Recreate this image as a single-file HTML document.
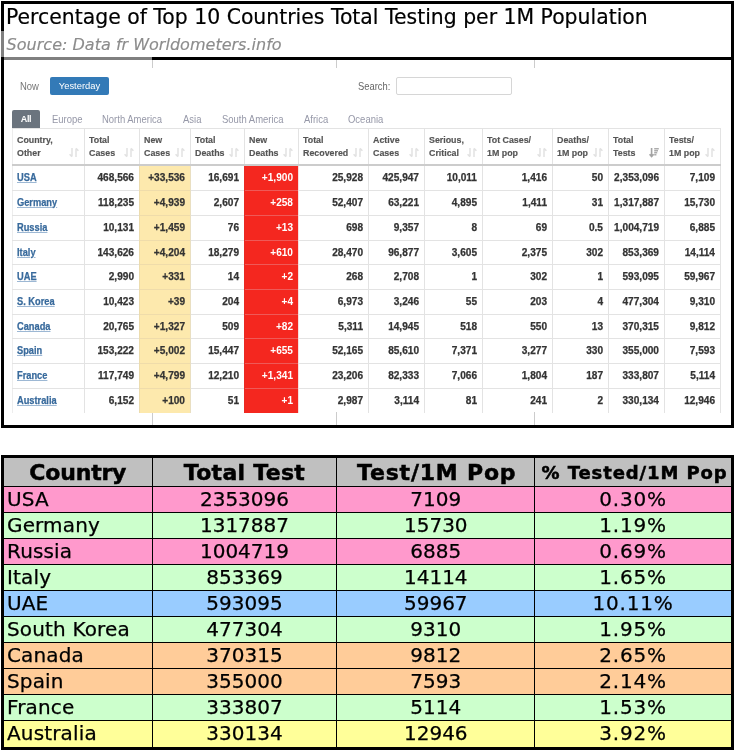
<!DOCTYPE html>
<html><head><meta charset="utf-8">
<style>
*{margin:0;padding:0;box-sizing:border-box}
html,body{width:736px;height:751px;background:#fff;overflow:hidden}
body{position:relative;font-family:"Liberation Sans",Arial,sans-serif}
.a{position:absolute}
.blk{position:absolute;background:#000}
.t{position:absolute;white-space:nowrap}
#title{left:6px;top:5px;font:20.4px/24px "DejaVu Sans",Verdana,sans-serif;color:#000;-webkit-text-stroke:0.2px}
#src{left:6.6px;top:35px;-webkit-text-stroke:0.15px;font:italic 16.05px/20px "DejaVu Sans",Verdana,sans-serif;color:#8c8c8c}
/* worldometers */
.wm{font-family:"Liberation Sans",Helvetica,Arial,sans-serif}
#now{left:20px;top:81px;font-size:10.2px;line-height:12px;color:#777;transform:scaleX(0.93);transform-origin:0 50%}
#yest{left:50px;top:77px;width:59px;height:18px;background:#337ab7;border-radius:2px;color:#fff;font-size:9.4px;line-height:18px;text-align:center}
#srch{left:358px;top:81px;font-size:10.1px;line-height:12px;color:#666;transform:scaleX(0.93);transform-origin:0 50%}
#inp{left:396px;top:77px;width:116px;height:18px;border:1px solid #d6d6d6;border-radius:2px;background:#fff}
#all{left:12px;top:110px;width:28px;height:18px;background:#6b747e;border-radius:2px 2px 0 0;color:#fff;font-size:9px;letter-spacing:-0.3px;line-height:18px;text-align:center;font-weight:bold}
.tab{position:absolute;top:114px;font-size:10.2px;line-height:12px;color:#9698a8;white-space:nowrap;transform:scaleX(0.93);transform-origin:0 50%}
table.w{position:absolute;left:12px;top:128px;border-collapse:collapse;table-layout:fixed;width:709px}
table.w th,table.w td{border:1px solid #e3e3e3;overflow:hidden;white-space:nowrap}
table.w th{-webkit-text-stroke:0.15px;height:36px;font-size:8.85px;line-height:12.8px;color:#555;font-weight:bold;text-align:left;vertical-align:middle;padding:2px 4px 0;border-bottom:2px solid #ccc;position:relative}
table.w td{-webkit-text-stroke:0.25px;font-size:10.1px;line-height:12px;font-weight:bold;color:#333;text-align:right;padding:6px 5px 0;vertical-align:top}
table.w tr.f td{padding-top:6px}
table.w tr.f td.c{padding-top:5px}
table.w td.c{text-align:left;color:#386a9c;padding-left:4px;padding-top:5px}
table.w td.c span{display:inline-block;font-size:10.6px;transform:scaleX(0.875);transform-origin:0 50%;text-decoration:underline;text-decoration-color:#9db8d4}
table.w td.y{background:#fde9ad;border-color:#efdcaa;border-left:1px double #ecdcae;border-right:1px double #e9dfc2}
table.w td.r{-webkit-text-stroke:0;background:#f4271f;color:#fff;border-color:#ee5a58;border-left:1px double #e82a24;border-right:1px double #f7dede}
table.w tr:last-child td{border-bottom:0}
table.w td:first-child,table.w th:first-child{border-left-color:#ededed}
.si{position:absolute;right:5px;bottom:7px;width:10px;height:9px;overflow:visible}
/* lower table */
table.s{position:absolute;left:1px;top:455px;border-collapse:collapse;table-layout:fixed;width:733px;border:3px solid #000;font-family:"DejaVu Sans",Verdana,sans-serif}
table.s td,table.s th{border:1px solid #000;white-space:nowrap;overflow:hidden}
table.s th{-webkit-text-stroke:0.5px;background:#c0c0c0;height:30px;font-size:22px;font-weight:bold;text-align:center}
table.s td{height:26px;font-size:20px;text-align:center;line-height:25px}
table.s td:first-child{text-align:left;padding-left:3px;letter-spacing:0.15px}
table.s td:last-child{letter-spacing:0.8px}
table.s td{-webkit-text-stroke:0.25px}
.pk td{background:#ff99cc}
.gn td{background:#ccffcc}
.bl td{background:#99ccff}
.or td{background:#ffcc99}
.yl td{background:#ffff99}
table.s tr.last td{height:28px;vertical-align:top}
</style></head><body>
<!-- top frame -->
<div class="blk" style="left:1px;top:1px;width:733px;height:3px"></div>
<div class="blk" style="left:1px;top:1px;width:3px;height:30px"></div>
<div class="a" style="left:1px;top:31px;width:3px;height:26px;background:#808080"></div>
<div class="blk" style="left:1px;top:57px;width:3px;height:371px"></div>
<div class="a" style="left:4px;top:57px;width:148px;height:3px;background:#808080"></div>
<div class="blk" style="left:152px;top:57px;width:582px;height:3px"></div>
<div class="blk" style="left:731px;top:1px;width:3px;height:427px"></div>
<div class="blk" style="left:1px;top:425px;width:733px;height:3px"></div>
<div class="a" style="left:152px;top:60px;width:1px;height:8px;background:#ccc"></div>
<div class="a" style="left:336px;top:60px;width:1px;height:8px;background:#ccc"></div>
<div class="a" style="left:534px;top:60px;width:1px;height:8px;background:#ccc"></div>
<div class="a" style="left:152px;top:412px;width:1px;height:13px;background:#ccc"></div>
<div class="a" style="left:336px;top:412px;width:1px;height:13px;background:#ccc"></div>
<div class="a" style="left:534px;top:412px;width:1px;height:13px;background:#ccc"></div>
<div class="t" id="title">Percentage of Top 10 Countries Total Testing per 1M Population</div>
<div class="t" id="src">Source: Data fr Worldometers.info</div>

<div class="wm">
<div class="t" id="now">Now</div>
<div class="t a" id="yest">Yesterday</div>
<div class="t" id="srch">Search:</div>
<div class="a" id="inp"></div>
<div class="t a" id="all">All</div>
<div class="tab" style="left:52px">Europe</div>
<div class="tab" style="left:102px">North America</div>
<div class="tab" style="left:183px">Asia</div>
<div class="tab" style="left:222px">South America</div>
<div class="tab" style="left:304px">Africa</div>
<div class="tab" style="left:348px">Oceania</div>

<table class="w">
<colgroup><col style="width:72px"><col style="width:55px"><col style="width:51px"><col style="width:54px"><col style="width:54px"><col style="width:70px"><col style="width:56px"><col style="width:58px"><col style="width:70px"><col style="width:56px"><col style="width:56px"><col style="width:56px"></colgroup>
<tr><th>Country,<br>Other<svg class="si" viewBox="0 0 10 9"><path d="M3 0v8.6M3 8.6L0.6 6.2M7 9V0.4M7 0.4L9.4 2.8" stroke="#e2e2e2" stroke-width="1.5" fill="none"/></svg></th>
<th>Total<br>Cases<svg class="si" viewBox="0 0 10 9"><path d="M3 0v8.6M3 8.6L0.6 6.2M7 9V0.4M7 0.4L9.4 2.8" stroke="#e2e2e2" stroke-width="1.5" fill="none"/></svg></th>
<th>New<br>Cases<svg class="si" viewBox="0 0 10 9"><path d="M3 0v8.6M3 8.6L0.6 6.2M7 9V0.4M7 0.4L9.4 2.8" stroke="#e2e2e2" stroke-width="1.5" fill="none"/></svg></th>
<th>Total<br>Deaths<svg class="si" viewBox="0 0 10 9"><path d="M3 0v8.6M3 8.6L0.6 6.2M7 9V0.4M7 0.4L9.4 2.8" stroke="#e2e2e2" stroke-width="1.5" fill="none"/></svg></th>
<th>New<br>Deaths<svg class="si" viewBox="0 0 10 9"><path d="M3 0v8.6M3 8.6L0.6 6.2M7 9V0.4M7 0.4L9.4 2.8" stroke="#e2e2e2" stroke-width="1.5" fill="none"/></svg></th>
<th>Total<br>Recovered<svg class="si" viewBox="0 0 10 9"><path d="M3 0v8.6M3 8.6L0.6 6.2M7 9V0.4M7 0.4L9.4 2.8" stroke="#e2e2e2" stroke-width="1.5" fill="none"/></svg></th>
<th>Active<br>Cases<svg class="si" viewBox="0 0 10 9"><path d="M3 0v8.6M3 8.6L0.6 6.2M7 9V0.4M7 0.4L9.4 2.8" stroke="#e2e2e2" stroke-width="1.5" fill="none"/></svg></th>
<th>Serious,<br>Critical<svg class="si" viewBox="0 0 10 9"><path d="M3 0v8.6M3 8.6L0.6 6.2M7 9V0.4M7 0.4L9.4 2.8" stroke="#e2e2e2" stroke-width="1.5" fill="none"/></svg></th>
<th>Tot&nbsp;Cases/<br>1M pop<svg class="si" viewBox="0 0 10 9"><path d="M3 0v8.6M3 8.6L0.6 6.2M7 9V0.4M7 0.4L9.4 2.8" stroke="#e2e2e2" stroke-width="1.5" fill="none"/></svg></th>
<th>Deaths/<br>1M pop<svg class="si" viewBox="0 0 10 9"><path d="M3 0v8.6M3 8.6L0.6 6.2M7 9V0.4M7 0.4L9.4 2.8" stroke="#e2e2e2" stroke-width="1.5" fill="none"/></svg></th>
<th>Total<br>Tests<svg class="si" viewBox="0 0 10 9"><path d="M2.6 0v8.4M0.6 6.2L2.6 8.6 4.6 6.2" stroke="#a4a4a4" stroke-width="1.6" fill="none"/><path d="M5.2 0.7h4.6M5.2 2.7h3.8M5.2 4.7h3M5.2 6.7h2.2" stroke="#acacac" stroke-width="1.4" fill="none"/></svg></th>
<th>Tests/<br>1M pop<svg class="si" viewBox="0 0 10 9"><path d="M3 0v8.6M3 8.6L0.6 6.2M7 9V0.4M7 0.4L9.4 2.8" stroke="#e2e2e2" stroke-width="1.5" fill="none"/></svg></th></tr>
<tr class="f" style="height:26px"><td class="c"><span>USA</span></td><td>468,566</td><td class="y">+33,536</td><td>16,691</td><td class="r">+1,900</td><td>25,928</td><td>425,947</td><td>10,011</td><td>1,416</td><td>50</td><td>2,353,096</td><td>7,109</td></tr>
<tr style="height:25px"><td class="c"><span>Germany</span></td><td>118,235</td><td class="y">+4,939</td><td>2,607</td><td class="r">+258</td><td>52,407</td><td>63,221</td><td>4,895</td><td>1,411</td><td>31</td><td>1,317,887</td><td>15,730</td></tr>
<tr style="height:25px"><td class="c"><span>Russia</span></td><td>10,131</td><td class="y">+1,459</td><td>76</td><td class="r">+13</td><td>698</td><td>9,357</td><td>8</td><td>69</td><td>0.5</td><td>1,004,719</td><td>6,885</td></tr>
<tr style="height:24px"><td class="c"><span>Italy</span></td><td>143,626</td><td class="y">+4,204</td><td>18,279</td><td class="r">+610</td><td>28,470</td><td>96,877</td><td>3,605</td><td>2,375</td><td>302</td><td>853,369</td><td>14,114</td></tr>
<tr style="height:25px"><td class="c"><span>UAE</span></td><td>2,990</td><td class="y">+331</td><td>14</td><td class="r">+2</td><td>268</td><td>2,708</td><td>1</td><td>302</td><td>1</td><td>593,095</td><td>59,967</td></tr>
<tr style="height:25px"><td class="c"><span>S. Korea</span></td><td>10,423</td><td class="y">+39</td><td>204</td><td class="r">+4</td><td>6,973</td><td>3,246</td><td>55</td><td>203</td><td>4</td><td>477,304</td><td>9,310</td></tr>
<tr style="height:24px"><td class="c"><span>Canada</span></td><td>20,765</td><td class="y">+1,327</td><td>509</td><td class="r">+82</td><td>5,311</td><td>14,945</td><td>518</td><td>550</td><td>13</td><td>370,315</td><td>9,812</td></tr>
<tr style="height:25px"><td class="c"><span>Spain</span></td><td>153,222</td><td class="y">+5,002</td><td>15,447</td><td class="r">+655</td><td>52,165</td><td>85,610</td><td>7,371</td><td>3,277</td><td>330</td><td>355,000</td><td>7,593</td></tr>
<tr style="height:25px"><td class="c"><span>France</span></td><td>117,749</td><td class="y">+4,799</td><td>12,210</td><td class="r">+1,341</td><td>23,206</td><td>82,333</td><td>7,066</td><td>1,804</td><td>187</td><td>333,807</td><td>5,114</td></tr>
<tr style="height:24px"><td class="c"><span>Australia</span></td><td>6,152</td><td class="y">+100</td><td>51</td><td class="r">+1</td><td>2,987</td><td>3,114</td><td>81</td><td>241</td><td>2</td><td>330,134</td><td>12,946</td></tr>
</table>
</div>

<table class="s">
<colgroup><col style="width:149px"><col style="width:184px"><col style="width:197px"><col style="width:197px"></colgroup>
<tr><th style="letter-spacing:-0.2px">Country</th><th style="letter-spacing:0.3px">Total Test</th><th style="letter-spacing:0.8px;padding-left:2px">Test/1M Pop</th><th style="font-size:18px;letter-spacing:0.9px;padding-left:3px">% Tested/1M Pop</th></tr>
<tr class="pk"><td>USA</td><td>2353096</td><td>7109</td><td>0.30%</td></tr>
<tr class="gn"><td>Germany</td><td>1317887</td><td>15730</td><td>1.19%</td></tr>
<tr class="pk"><td>Russia</td><td>1004719</td><td>6885</td><td>0.69%</td></tr>
<tr class="gn"><td>Italy</td><td>853369</td><td>14114</td><td>1.65%</td></tr>
<tr class="bl"><td>UAE</td><td>593095</td><td>59967</td><td>10.11%</td></tr>
<tr class="gn"><td>South Korea</td><td>477304</td><td>9310</td><td>1.95%</td></tr>
<tr class="or"><td>Canada</td><td>370315</td><td>9812</td><td>2.65%</td></tr>
<tr class="or"><td>Spain</td><td>355000</td><td>7593</td><td>2.14%</td></tr>
<tr class="gn"><td>France</td><td>333807</td><td>5114</td><td>1.53%</td></tr>
<tr class="yl last"><td>Australia</td><td>330134</td><td>12946</td><td>3.92%</td></tr>
</table>
</body></html>
